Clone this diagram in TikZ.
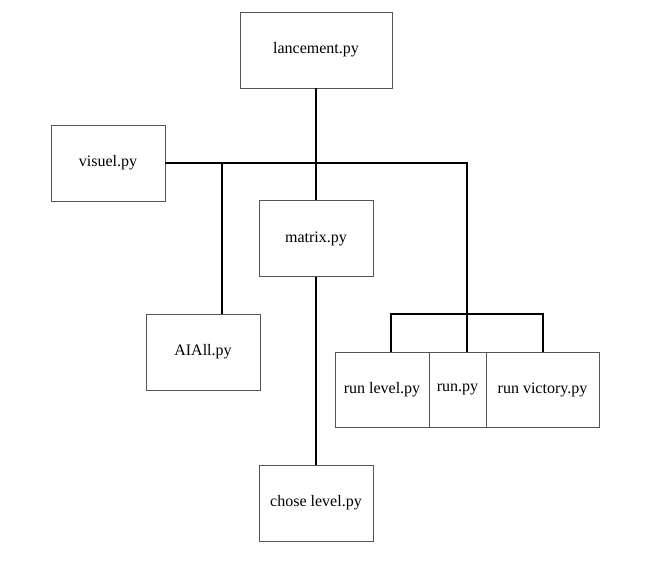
\documentclass[tikz,border=0pt]{standalone}
\usepackage{fontspec}
\setmainfont{Liberation Serif}
\usetikzlibrary{positioning, calc}
\definecolor{boxline}{HTML}{555555}

\begin{document}
\begin{tikzpicture}[
    x=0.75pt, y=-0.75pt,
    every node/.style={font=\fontsize{12}{14}\selectfont, align=center},
    file/.style={rectangle, draw=boxline, line width=0.7pt, fill=white,
                 inner sep=0pt, minimum width=85.5pt, minimum height=57pt},
    wide/.style={file, minimum width=114pt},
    link/.style={line width=1.1pt, color=black}
]
\useasboundingbox (0,0) rectangle (650,588);

% Nodes
\node[wide] (lanc) at (316,50) {lancement.py};
\node[file] (visuel) at (108,163) {visuel.py};
\node[file] (matrix) at (316,238.5) {matrix.py};
\node[file] (aiall) at (203,352) {AIAll.py};
\node[file, minimum width=70.5pt, minimum height=56.25pt] (runlevel) at (382,389.5) {run level.py};
\node[file, minimum width=42.75pt, minimum height=56.25pt] (run) at (457.5,389.5) {\raisebox{2pt}{run.py}};
\node[file, minimum width=84.75pt, minimum height=56.25pt] (runvict) at (542.5,389.5) {run victory.py};
\node[file] (chose) at (316,503) {chose level.py};

% Junctions
\coordinate (jai) at (222,163);
\coordinate (bus) at (467,163);
\coordinate (brk) at (467,314);
\coordinate (bl) at (391,314);
\coordinate (br) at (543,314);

% Lines
\draw[link] (lanc) -- (matrix);
\draw[link] (visuel.east) -- (bus) -- (bus |- run.north);
\draw[link] (jai) -- (jai |- aiall.north);
\draw[link] (bl |- runlevel.north) -- (bl) -- (br) -- (br |- runvict.north);
\draw[link] (matrix) -- (chose);

\end{tikzpicture}
\end{document}
